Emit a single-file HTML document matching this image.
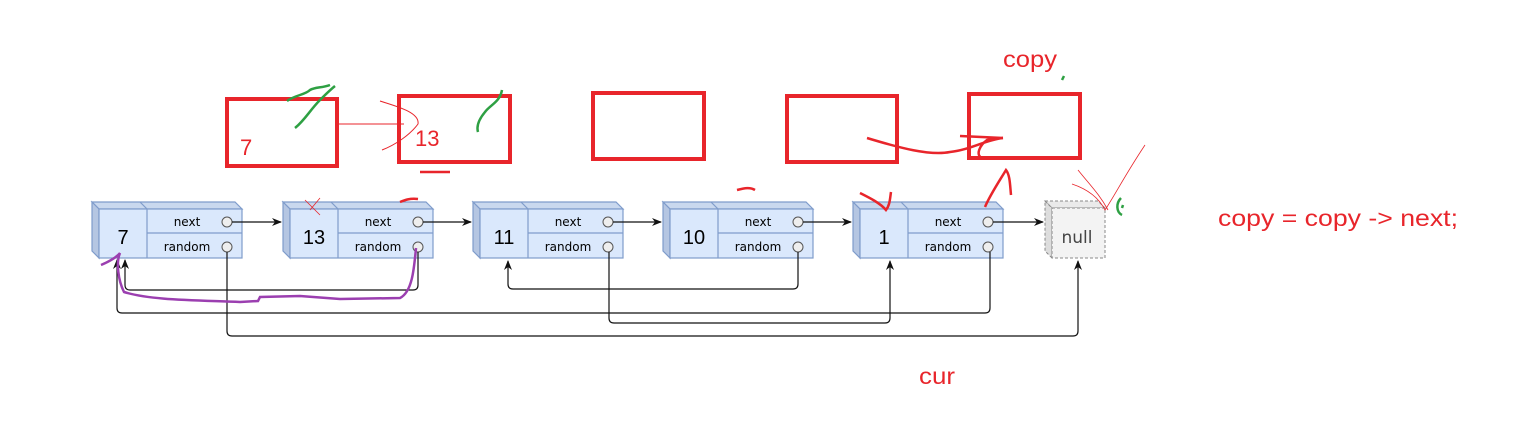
<!DOCTYPE html>
<html><head><meta charset="utf-8"><style>
html,body{margin:0;padding:0;background:#fff;width:1533px;height:423px;overflow:hidden}
svg{display:block}
.lbl{font-family:"Comic Sans MS","DejaVu Sans",sans-serif}
.red{font-family:"Liberation Sans","Noto Sans CJK SC",sans-serif;fill:#e8252b}
</style></head><body>
<svg width="1533" height="423" viewBox="0 0 1533 423" xmlns="http://www.w3.org/2000/svg">
<defs>
<marker id="ar" markerWidth="10" markerHeight="10" refX="9" refY="5" orient="auto" markerUnits="userSpaceOnUse">
<path d="M0,1 L10,5 L0,9 L3,5 Z" fill="#111"/></marker>
<g id="node">
<polygon points="0,0 143,0 150,7 7,7" fill="#c9d8ee" stroke="#7f9ccb" stroke-width="1.2"/>
<polygon points="0,0 7,7 7,56 0,49" fill="#b5c6e2" stroke="#7f9ccb" stroke-width="1.2"/>
<rect x="7" y="7" width="143" height="49" fill="#dae8fc" stroke="#7f9ccb" stroke-width="1.2"/>
<line x1="55" y1="7" x2="55" y2="56" stroke="#7f9ccb" stroke-width="1.2"/>
<line x1="48" y1="0" x2="55" y2="7" stroke="#7f9ccb" stroke-width="1.2"/>
<line x1="55" y1="31" x2="150" y2="31" stroke="#7f9ccb" stroke-width="1.2"/>
<circle cx="135" cy="20" r="5" fill="#eee" stroke="#555"/>
<circle cx="135" cy="45" r="5" fill="#eee" stroke="#555"/>
<text x="95" y="24" font-size="12" text-anchor="middle" class="lbl">next</text>
<text x="95" y="49" font-size="12" text-anchor="middle" class="lbl">random</text>
</g>
</defs>

<g transform="translate(92,202)"><use href="#node"/><text x="31" y="42" font-size="20" text-anchor="middle" font-family="Liberation Sans,sans-serif">7</text></g>
<g transform="translate(283,202)"><use href="#node"/><text x="31" y="42" font-size="20" text-anchor="middle" font-family="Liberation Sans,sans-serif">13</text></g>
<g transform="translate(473,202)"><use href="#node"/><text x="31" y="42" font-size="20" text-anchor="middle" font-family="Liberation Sans,sans-serif">11</text></g>
<g transform="translate(663,202)"><use href="#node"/><text x="31" y="42" font-size="20" text-anchor="middle" font-family="Liberation Sans,sans-serif">10</text></g>
<g transform="translate(853,202)"><use href="#node"/><text x="31" y="42" font-size="20" text-anchor="middle" font-family="Liberation Sans,sans-serif">1</text></g>

<polygon points="1045,201 1098,201 1105,208 1052,208" fill="#eaeaea" stroke="#888" stroke-dasharray="3,2"/>
<polygon points="1045,201 1052,208 1052,258 1045,251" fill="#ddd" stroke="#888" stroke-dasharray="3,2"/>
<rect x="1052" y="208" width="53" height="50" fill="#f3f3f3" stroke="#888" stroke-dasharray="3,2"/>
<text x="1077" y="243" font-size="17" text-anchor="middle" fill="#444" class="lbl">null</text>

<g stroke="#111" stroke-width="1.2" fill="none" marker-end="url(#ar)">
<line x1="232" y1="222" x2="281" y2="222"/>
<line x1="423" y1="222" x2="471" y2="222"/>
<line x1="613" y1="222" x2="661" y2="222"/>
<line x1="803" y1="222" x2="851" y2="222"/>
<line x1="993" y1="222" x2="1043" y2="222"/>
<path d="M227,252 V331 q0,5 5,5 H1073 q5,0 5,-5 V261"/>
<path d="M418,252 V285 q0,5 -5,5 H130 q-5,0 -5,-5 V260"/>
<path d="M609,252 V318 q0,5 5,5 H885 q5,0 5,-5 V261"/>
<path d="M798,252 V284 q0,5 -5,5 H513 q-5,0 -5,-5 V261"/>
<path d="M990,252 V308 q0,5 -5,5 H122 q-5,0 -5,-5 V260"/>
</g>

<path d="M101,265 C108,262 116,258 120,253 C116,262 118,280 124,292 C150,300 190,300 240,302 L258,301 L260,297 L300,296 L340,299 L400,298 C412,292 414,270 416,248" fill="none" stroke="#9b3fb0" stroke-width="2.5"/>

<g fill="none" stroke="#e8252b" stroke-width="4">
<rect x="227" y="99" width="110" height="67"/>
<rect x="399" y="96" width="111" height="66"/>
<rect x="593" y="93" width="111" height="66"/>
<rect x="787" y="96" width="110" height="66"/>
<rect x="969" y="94" width="111" height="64"/>
</g>
<text x="240" y="155" font-size="22" class="red">7</text>
<text x="415" y="146" font-size="22" class="red">13</text>
<line x1="337" y1="124" x2="404" y2="124" stroke="#e8252b" stroke-width="1"/>
<path d="M380,101 C395,106 420,112 418,124 C410,135 395,145 382,150" fill="none" stroke="#e8252b" stroke-width="1"/>

<g fill="none" stroke="#e8252b" stroke-width="2.5">
<path d="M867,138 C900,148 930,156 950,152 C970,150 985,140 1003,138 L987,140 C980,145 975,155 982,158"/>
<path d="M960,136 L1003,138"/>
<path d="M985,207 C990,195 1000,180 1006,170 C1010,175 1010,185 1011,195"/>
<path d="M860,193 C870,198 880,203 886,210 C890,205 890,198 891,192"/>
<path d="M420,172 L450,172 M400,202 C405,200 410,198 418,199"/>
<path d="M737,190 C745,188 750,187 755,190"/>
</g>
<g fill="none" stroke="#e8252b" stroke-width="0.8">
<path d="M1072,184 C1090,190 1100,200 1105,210 C1115,195 1125,175 1145,145"/>
<path d="M1078,170 C1090,185 1100,195 1108,210"/>
<path d="M305,200 L320,215 M310,210 L320,198"/>
</g>
<g fill="none" stroke="#2ea043" stroke-width="2.5">
<path d="M287,101 C295,95 305,95 310,90 C315,87 322,88 330,85"/>
<path d="M295,128 C305,120 310,110 320,100 C325,95 330,90 335,86"/>
<path d="M478,132 C476,125 480,118 485,112 C490,105 500,102 502,90"/>
<path d="M1121,198 C1116,203 1116,212 1122,215 M1123,205 L1122,208"/>
<path d="M1062,80 L1064,76"/>
</g>

<text x="1003" y="67" font-size="23" class="red" textLength="54" lengthAdjust="spacingAndGlyphs">copy</text>
<text x="919" y="384" font-size="23" class="red" textLength="36" lengthAdjust="spacingAndGlyphs">cur</text>
<text x="1218" y="226" font-size="23" class="red" textLength="240" lengthAdjust="spacingAndGlyphs">copy = copy -&gt; next;</text>
</svg>
</body></html>
